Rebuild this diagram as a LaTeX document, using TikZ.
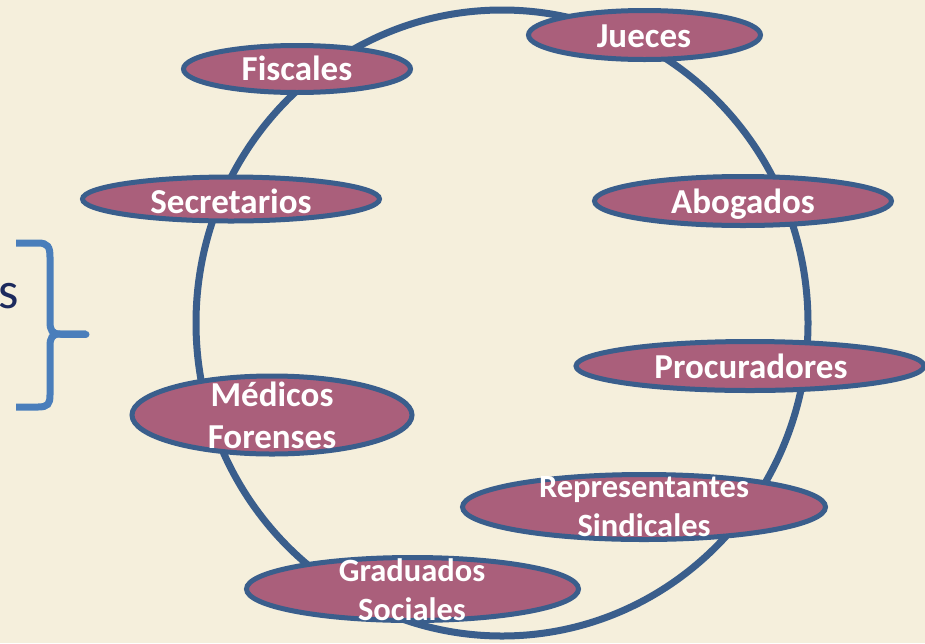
\documentclass[tikz,border=0pt]{standalone}
\usepackage{fontspec}
\setmainfont{Carlito}
\usetikzlibrary{shapes.geometric}
\definecolor{bg}{HTML}{F5EFDC}
\definecolor{ringblue}{HTML}{3A5E8C}
\definecolor{pill}{HTML}{AA5F7B}
\definecolor{bracecol}{HTML}{4A7EBB}
\definecolor{navy}{HTML}{1C2A5E}
\begin{document}
\begin{tikzpicture}[x=1pt,y=-1pt,
  role/.style={ellipse, draw=ringblue, line width=5pt, fill=pill, inner sep=0pt},
  lbl/.style={text=white, font=\bfseries\fontsize{35}{40}\selectfont, anchor=base, inner sep=0pt},
  lbltwo/.style={text=white, font=\bfseries\fontsize{32.5}{39}\selectfont, anchor=base, align=center, inner sep=0pt},
  lblmed/.style={text=white, font=\bfseries\fontsize{35}{42}\selectfont, anchor=base, align=center, inner sep=0pt},
  ring/.style={draw=ringblue, line width=7pt},
  bracestyle/.style={draw=bracecol, line width=7pt}
]
\fill[bg] (0,0) rectangle (925,643);
\useasboundingbox (0,0) rectangle (925,643);

% big ring
\draw[ring] (502,323) ellipse [x radius=306, y radius=313];

% brace and partial text
\node[text=navy, font=\fontsize{52}{60}\selectfont, anchor=base east, inner sep=0pt] (stxt) at (19,308) {s};
\coordinate (btop) at (16,243);
\coordinate (bbot) at (16,407);
\coordinate (btip) at (86,334);
\draw[bracestyle] (btop) -- (38,243) .. controls (48,243) and (50,247) .. (50,257) -- (50,322)
  .. controls (50,330) and (52,334) .. (60,334) -- (btip);
\draw[bracestyle] (btip) -- (60,334) .. controls (52,334) and (50,338) .. (50,346) -- (50,395)
  .. controls (50,404) and (48,407) .. (38,407) -- (bbot);
\draw[bracestyle, line cap=round] (62,334) -- (btip);

% role ellipses
\node[role, minimum width=227pt, minimum height=47pt] (fis) at (297,69) {};
\node[role, minimum width=232pt, minimum height=49pt] (jue) at (644.5,35) {};
\node[role, minimum width=297pt, minimum height=44pt] (sec) at (231,199) {};
\node[role, minimum width=297pt, minimum height=49pt] (abo) at (743,201) {};
\node[role, minimum width=348pt, minimum height=49pt] (pro) at (750,366) {};
\node[role, minimum width=280pt, minimum height=78pt] (med) at (272,415) {};
\node[role, minimum width=363pt, minimum height=65pt] (rep) at (644,507) {};
\node[role, minimum width=332pt, minimum height=63pt] (gra) at (412.5,589) {};

% labels
\node[lbl] (tfis) at (297,80) {Fiscales};
\node[lbl] (tjue) at (644,47) {Jueces};
\node[lbl] (tsec) at (231,213) {Secretarios};
\node[lbl] (tabo) at (743,213) {Abogados};
\node[lbl] (tpro) at (751,378) {Procuradores};
\node[lblmed] (tmed) at (272,448) {Médicos\\Forenses};
\node[lbltwo] (trep) at (644,536) {Representantes\\Sindicales};
\node[lbltwo] (tgra) at (412,620) {Graduados\\Sociales};
\end{tikzpicture}
\end{document}
